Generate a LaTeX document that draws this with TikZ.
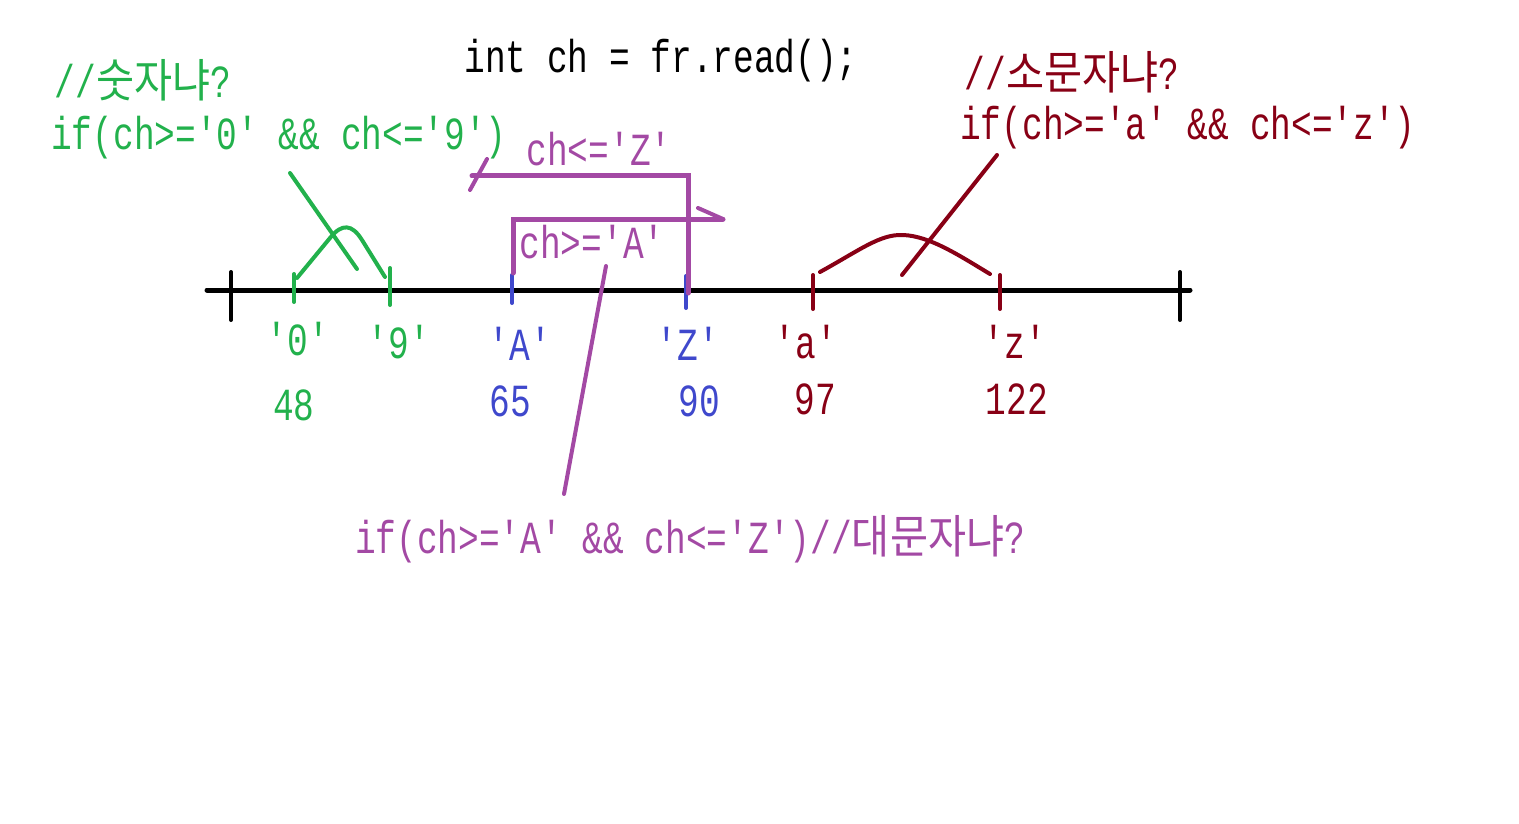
\documentclass[tikz,border=0pt]{standalone}
\usepackage{fontspec}
\setmainfont{Liberation Mono}[FakeStretch=0.75, Ligatures=TeXOff]
\newfontfamily\kr{Noto Sans CJK KR}[FakeStretch=0.9]
\definecolor{digitgreen}{RGB}{34,177,76}
\definecolor{upperpurple}{RGB}{163,73,164}
\definecolor{upperblue}{RGB}{63,72,204}
\definecolor{lowerred}{RGB}{136,0,21}

\begin{document}
\begin{tikzpicture}[x=1pt, y=-1pt, line cap=round, every node/.style={font=\fontsize{46}{50}\selectfont, inner sep=0pt, anchor=base}]
	\useasboundingbox (0,0) rectangle (1519,824);
	% number line
	\draw[line width=5pt] (207,290) -- (1190,290);
	\draw[line width=4pt] (231,272) -- (231,320);
	\draw[line width=4pt] (1180,272) -- (1180,320);
	\foreach \x/\c/\t/\b in {294/digitgreen/274/302, 390/digitgreen/268/305, 512/upperblue/275/303, 686/upperblue/276/308, 813/lowerred/275/309, 1000/lowerred/275/309}
		\draw[\c, line width=4pt] (\x,\t) -- (\x,\b);
	% labels under the line
	\node[digitgreen] (lab0) at (298,355) {'0'};
	\node[digitgreen] (lab9) at (399,358) {'9'};
	\node[upperblue] (labA) at (520,360) {'A'};
	\node[upperblue] (labZ) at (688,360) {'Z'};
	\node[lowerred] (laba) at (806,358) {'a'};
	\node[lowerred] (labz) at (1015,358) {'z'};
	\node[digitgreen] (num48) at (294,420) {48};
	\node[upperblue] (num65) at (510,416) {65};
	\node[upperblue] (num90) at (699,416) {90};
	\node[lowerred] (num97) at (815,414) {97};
	\node[lowerred] (num122) at (1017,414) {122};
	% code
	\node (title) at (661,73) {int ch = fr.read();};
	\node[digitgreen] (digitnote) at (143,98) {//{\kr 숫자냐}?};
	\node[digitgreen] (digitcond) at (279,150) {if(ch>='0' \&\& ch<='9')};
	\node[lowerred] (lowernote) at (1072,90) {//{\kr 소문자냐}?};
	\node[lowerred] (lowercond) at (1188,140) {if(ch>='a' \&\& ch<='z')};
	\node[upperpurple] (lezlabel) at (599,166) {ch<='Z'};
	\node[upperpurple] (gealabel) at (592,258) {ch>='A'};
	\node[upperpurple] (uppercond) at (690,553) {if(ch>='A' \&\& ch<='Z')//{\kr 대문자냐}?};
	% digits
	\coordinate (digittip) at (290,173);
	\coordinate (digitend) at (357,269);
	\draw[digitgreen, line width=4pt] (297,278) -- (330,238) .. controls (342,223) and (352,224) .. (362,240) -- (385,277);
	\draw[digitgreen, line width=4pt] (digittip) -- (digitend);
	% upper case
	\draw[upperpurple, line width=5pt] (472,176) -- (688,176) -- (688,293);
	\draw[upperpurple, line width=4pt] (470,190) -- (487,159);
	\draw[upperpurple, line width=5pt] (513,273) -- (513,219) -- (723,219);
	\draw[upperpurple, line width=4pt] (698,208) -- (723,219);
	\coordinate (uppertip) at (606,266);
	\coordinate (upperend) at (564,494);
	\draw[upperpurple, line width=4pt] (uppertip) -- (upperend);
	% lower case
	\draw[lowerred, line width=4pt] (820,272) .. controls (860,250) and (880,234) .. (903,235) .. controls (930,236) and (960,256) .. (990,274);
	\coordinate (lowertip) at (997,155);
	\coordinate (lowerend) at (902,275);
	\draw[lowerred, line width=4pt] (lowertip) -- (lowerend);
\end{tikzpicture}
\end{document}
